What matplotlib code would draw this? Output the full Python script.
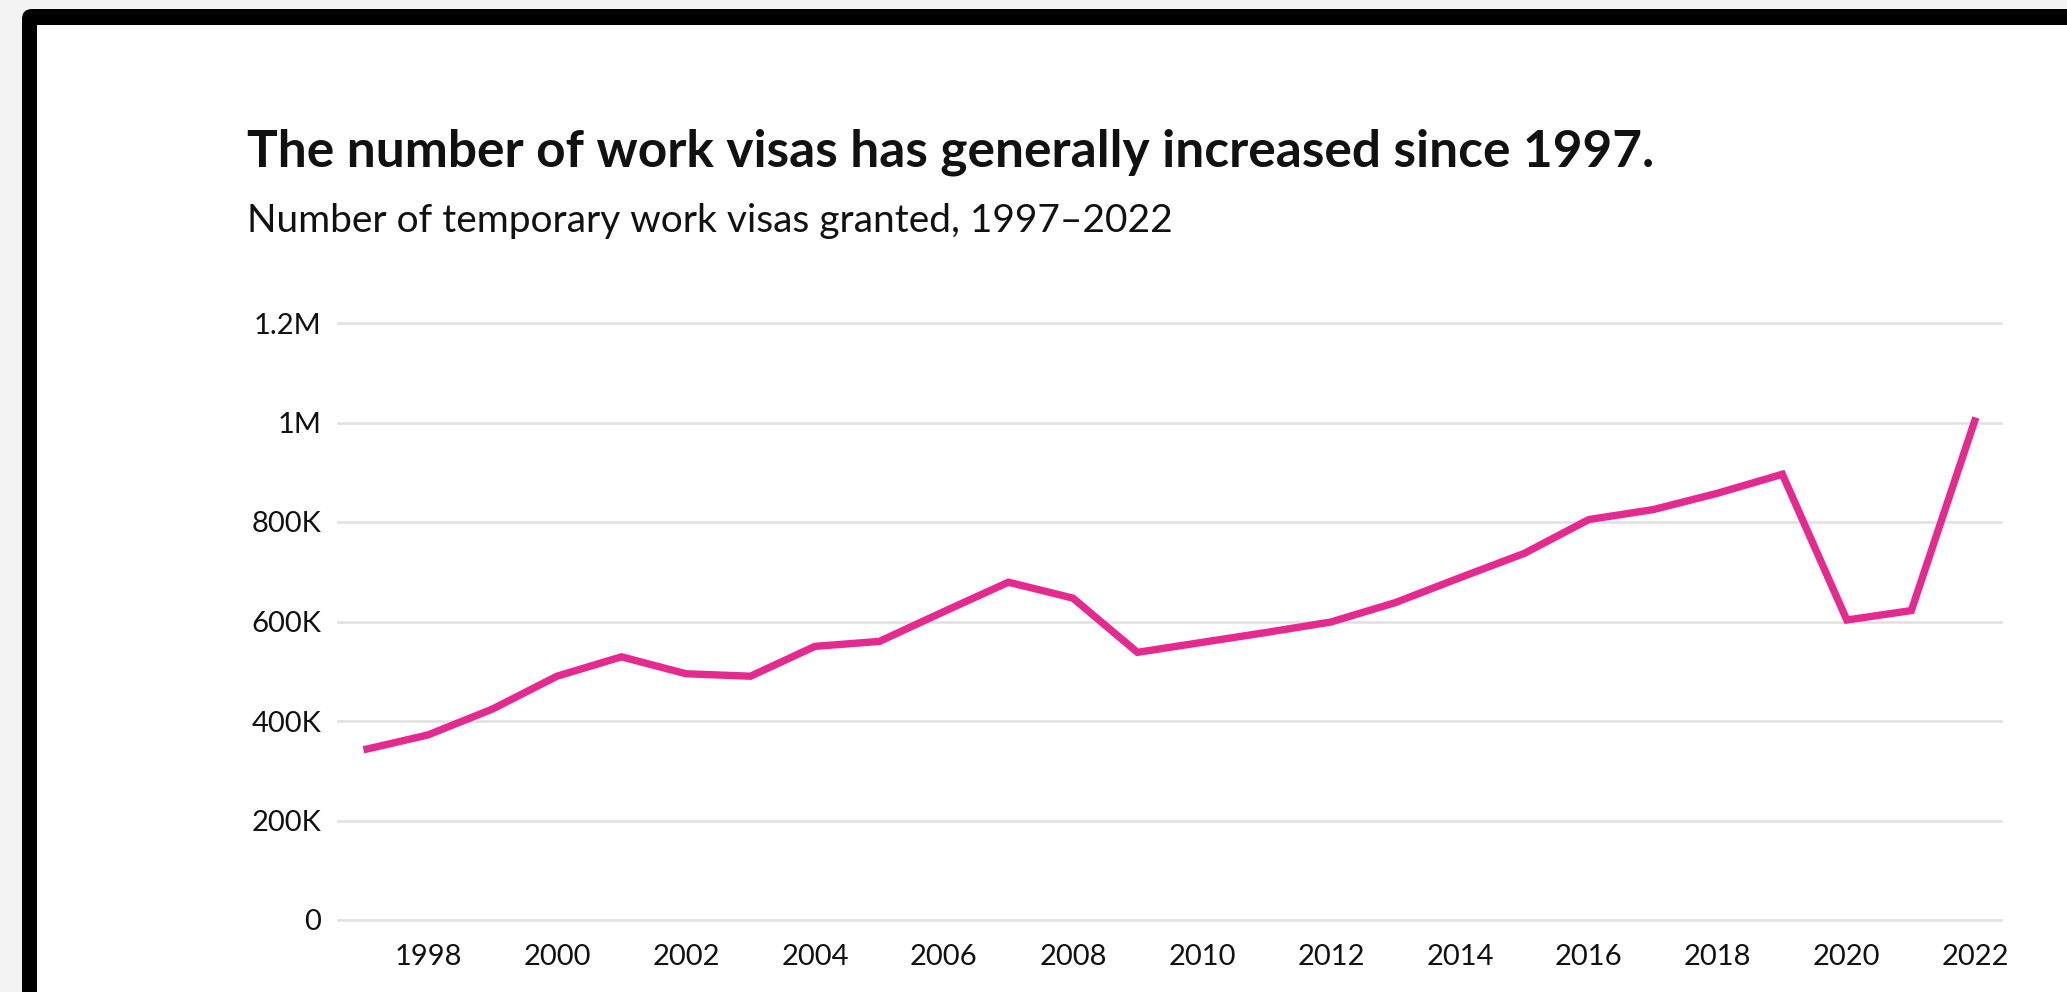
import matplotlib
matplotlib.use("Agg")
import matplotlib.pyplot as plt
import matplotlib.ticker as ticker
from matplotlib.patches import FancyBboxPatch, Rectangle

# data
years = list(range(1997, 2023))
visas = [342000, 372000, 424000, 490000, 529000, 495000, 490000, 550000,
         560000, 620000, 679000, 647000, 538000, 558000, 578000, 599000,
         638000, 688000, 737000, 805000, 825000, 858000, 896000, 603000,
         622000, 1010000]
y_ticks = [0, 200000, 400000, 600000, 800000, 1000000, 1200000]
y_tick_labels = ["0", "200K", "400K", "600K", "800K", "1M", "1.2M"]
x_ticks = list(range(1998, 2023, 2))

title = "The number of work visas has generally increased since 1997."
subtitle = "Number of temporary work visas granted, 1997\u20132022"

plt.rcParams['font.family'] = ['Lato', 'DejaVu Sans']

W, H = 2067, 992
fig = plt.figure(figsize=(W / 100, H / 100), dpi=100)
fig.patch.set_facecolor('#f3f3f3')

# black frame around the white card (pixel coords, origin bottom-left)
frame = FancyBboxPatch((22, -40), W + 40, H - 9 + 40,
                       boxstyle="round,pad=0,rounding_size=10",
                       transform=None, facecolor='black', edgecolor='none',
                       zorder=-2)
card = Rectangle((37, -40), W + 40, H - 25 + 40, transform=None,
                 facecolor='white', edgecolor='none', zorder=-1)
fig.patches.extend([frame, card])

ax = fig.add_axes([338 / W, (H - 920) / H, (2001 - 338) / W, (920 - 323) / H])
ax.set_facecolor('none')
ax.set_zorder(2)

ax.plot(years, visas, color='#e6298f', linewidth=5.3, solid_joinstyle='miter',
        solid_capstyle='butt', zorder=3)

ax.set_xlim(1996.605, 2022.39)
ax.set_ylim(0, 1200000)
ax.set_yticks(y_ticks)
ax.set_yticklabels(y_tick_labels)
ax.set_xticks(x_ticks)

for s in ax.spines.values():
    s.set_visible(False)
ax.tick_params(axis='both', length=0, labelsize=21, labelcolor='#111111')
ax.tick_params(axis='y', pad=12)
ax.tick_params(axis='x', pad=17)
ax.yaxis.grid(True, color='#e0e0e0', linewidth=1.8)
for gl in ax.get_ygridlines():
    gl.set_clip_on(False)
ax.xaxis.grid(False)

fig.text(247 / W, 1 - 167 / H, title, fontsize=37, fontweight='bold',
         color='#111111', ha='left', va='baseline', zorder=3)
fig.text(247 / W, 1 - 232 / H, subtitle, fontsize=28,
         color='#111111', ha='left', va='baseline', zorder=3)

fig.savefig('out.png', dpi=100, facecolor=fig.get_facecolor())
